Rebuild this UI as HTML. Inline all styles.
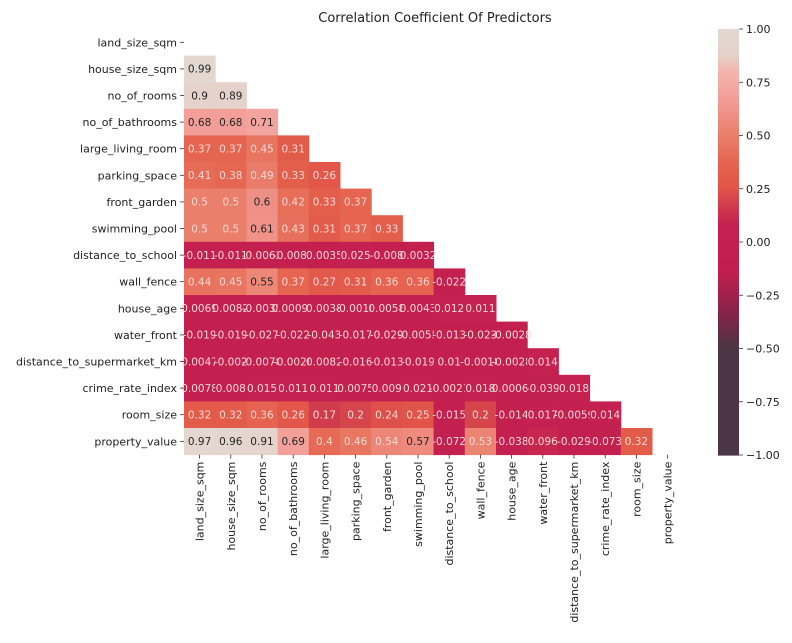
<!DOCTYPE html>
<html><head><meta charset="utf-8"><style>
body{margin:0;background:#fff;}
svg{display:block;font-family:"DejaVu Sans","Liberation Sans",sans-serif;}
</style></head><body>
<svg id="chart" width="792" height="643" viewBox="0 0 792 643">
<text x="435" y="22" text-anchor="middle" font-size="13" fill="#222">Correlation Coefficient Of Predictors</text>
<g id="cells"></g><g id="rowlabels"></g><g id="collabels"></g><g id="cbar"></g>
</svg>
<script>
const labels=["land_size_sqm","house_size_sqm","no_of_rooms","no_of_bathrooms","large_living_room","parking_space","front_garden","swimming_pool","distance_to_school","wall_fence","house_age","water_front","distance_to_supermarket_km","crime_rate_index","room_size","property_value"];
const row1=[0.99];
const row2=[0.9,0.89];
const row3=[0.68,0.68,0.71];
const row4=[0.37,0.37,0.45,0.31];
const row5=[0.41,0.38,0.49,0.33,0.26];
const row6=[0.5,0.5,0.6,0.42,0.33,0.37];
const row7=[0.5,0.5,0.61,0.43,0.31,0.37,0.33];
const row8=[-0.011,-0.011,-0.0062,-0.0083,0.0035,0.025,-0.008,0.0032];
const row9=[0.44,0.45,0.55,0.37,0.27,0.31,0.36,0.36,-0.022];
const row10=[0.0069,0.0082,-0.0035,0.00097,0.0038,-0.0018,0.0058,0.0043,0.012,0.011];
const row11=[-0.019,-0.019,-0.027,-0.022,-0.043,-0.017,-0.029,-0.0055,-0.013,-0.023,-0.0028];
const row12=[0.0047,-0.002,-0.0078,-0.0026,0.0082,-0.016,-0.013,-0.019,0.01,-0.0018,-0.0028,0.014];
const row13=[0.0078,0.008,0.015,0.011,0.011,0.0075,0.009,0.021,-0.0021,0.018,-0.00067,-0.039,0.018];
const row14=[0.32,0.32,0.36,0.26,0.17,0.2,0.24,0.25,-0.015,0.2,-0.014,0.017,-0.0059,0.014];
const row15=[0.97,0.96,0.91,0.69,0.4,0.46,0.54,0.57,-0.072,0.53,-0.038,0.096,-0.029,-0.073,0.32];
const rows=[[],row1,row2,row3,row4,row5,row6,row7,row8,row9,row10,row11,row12,row13,row14,row15];
const cbTicks=[1,0.75,0.5,0.25,0,-0.25,-0.5,-0.75,-1];

const NS="http://www.w3.org/2000/svg";
const X0=184,Y0=29,CW=31.2,CH=26.6,N=16;
const xPos=i=>X0+i*CW, yPos=i=>Y0+i*CH;
const CB={x:718,w:21,top:29,bot:455};
const cbY=v=>CB.top+(1-v)/2*(CB.bot-CB.top);
const stops=[[-1,[74,54,70]],[-0.5,[74,54,70]],[-0.35,[130,36,72]],[-0.15,[192,31,79]],[0.08,[197,33,80]],[0.17,[208,60,77]],[0.26,[226,87,74]],[0.32,[227,92,74]],[0.4,[230,106,85]],[0.5,[234,127,107]],[0.6,[239,144,134]],[0.7,[244,162,156]],[0.8,[242,181,174]],[0.88,[229,210,202]],[1,[226,216,209]]];
function color(v){
  for(let i=1;i<stops.length;i++){
    if(v<=stops[i][0]){const a=stops[i-1],b=stops[i];const t=(v-a[0])/(b[0]-a[0]);
      const c=a[1].map((x,k)=>Math.round(x+(b[1][k]-x)*t));return `rgb(${c.join(',')})`;}
  }
  return 'rgb(226,216,209)';
}
function fmt(v){let s=String(v);if(v<0)s='-'+s.slice(1);return s.replace(/^(-?)0\./,'$10.');}
function mk(tag,attrs,parent){const e=document.createElementNS(NS,tag);for(const k in attrs)e.setAttribute(k,attrs[k]);parent.appendChild(e);return e;}
const gc=document.getElementById('cells');
rows.forEach((r,i)=>{r.forEach((v,j)=>{
  const rect=mk('rect',{x:xPos(j),y:yPos(i),width:CW+0.5,height:CH+0.5,fill:color(v)},gc);
  
  
  const t=mk('text',{x:xPos(j)+CW/2,y:yPos(i)+CH/2+3.8,'text-anchor':'middle','font-size':'10.5',fill:v>=0.55?'#262626':'#f6d7d3'},gc);
  t.textContent=fmt(v);
  
  
});});
const gr=document.getElementById('rowlabels');
labels.forEach((l,i)=>{
  const y=yPos(i)+CH/2;
  mk('line',{x1:X0-4,x2:X0,y1:y,y2:y,stroke:'#333','stroke-width':0.8},gr);
  const t=mk('text',{x:X0-7,y:y+4,'text-anchor':'end','font-size':'11',fill:'#222'},gr);
  t.textContent=l;
  
  
});
const gl=document.getElementById('collabels');
const yb=Y0+N*CH;
labels.forEach((l,j)=>{
  const x=xPos(j)+CW/2;
  mk('line',{x1:x,x2:x,y1:yb,y2:yb+4,stroke:'#333','stroke-width':0.8},gl);
  const t=mk('text',{x:x+4,y:yb+7,'text-anchor':'end','font-size':'11',fill:'#222',transform:`rotate(-90 ${x+4} ${yb+7})`},gl);
  t.textContent=l;
  
  
});
const gcb=document.getElementById('cbar');
for(let k=0;k<200;k++){
  const v=1-k/200*2, v2=1-(k+1)/200*2;
  mk('rect',{x:CB.x,y:cbY(v),width:CB.w,height:cbY(v2)-cbY(v)+0.6,fill:color((v+v2)/2)},gcb);
}
cbTicks.forEach(v=>{
  const y=cbY(v);
  mk('line',{x1:CB.x+CB.w,x2:CB.x+CB.w+4,y1:y,y2:y,stroke:'#333','stroke-width':0.8},gcb);
  const t=mk('text',{x:CB.x+CB.w+7,y:y+4,'font-size':'11',fill:'#222'},gcb);
  t.textContent=(v<0?'\u2212':'')+Math.abs(v).toFixed(2);
  
  
});
</script>
</body></html>
